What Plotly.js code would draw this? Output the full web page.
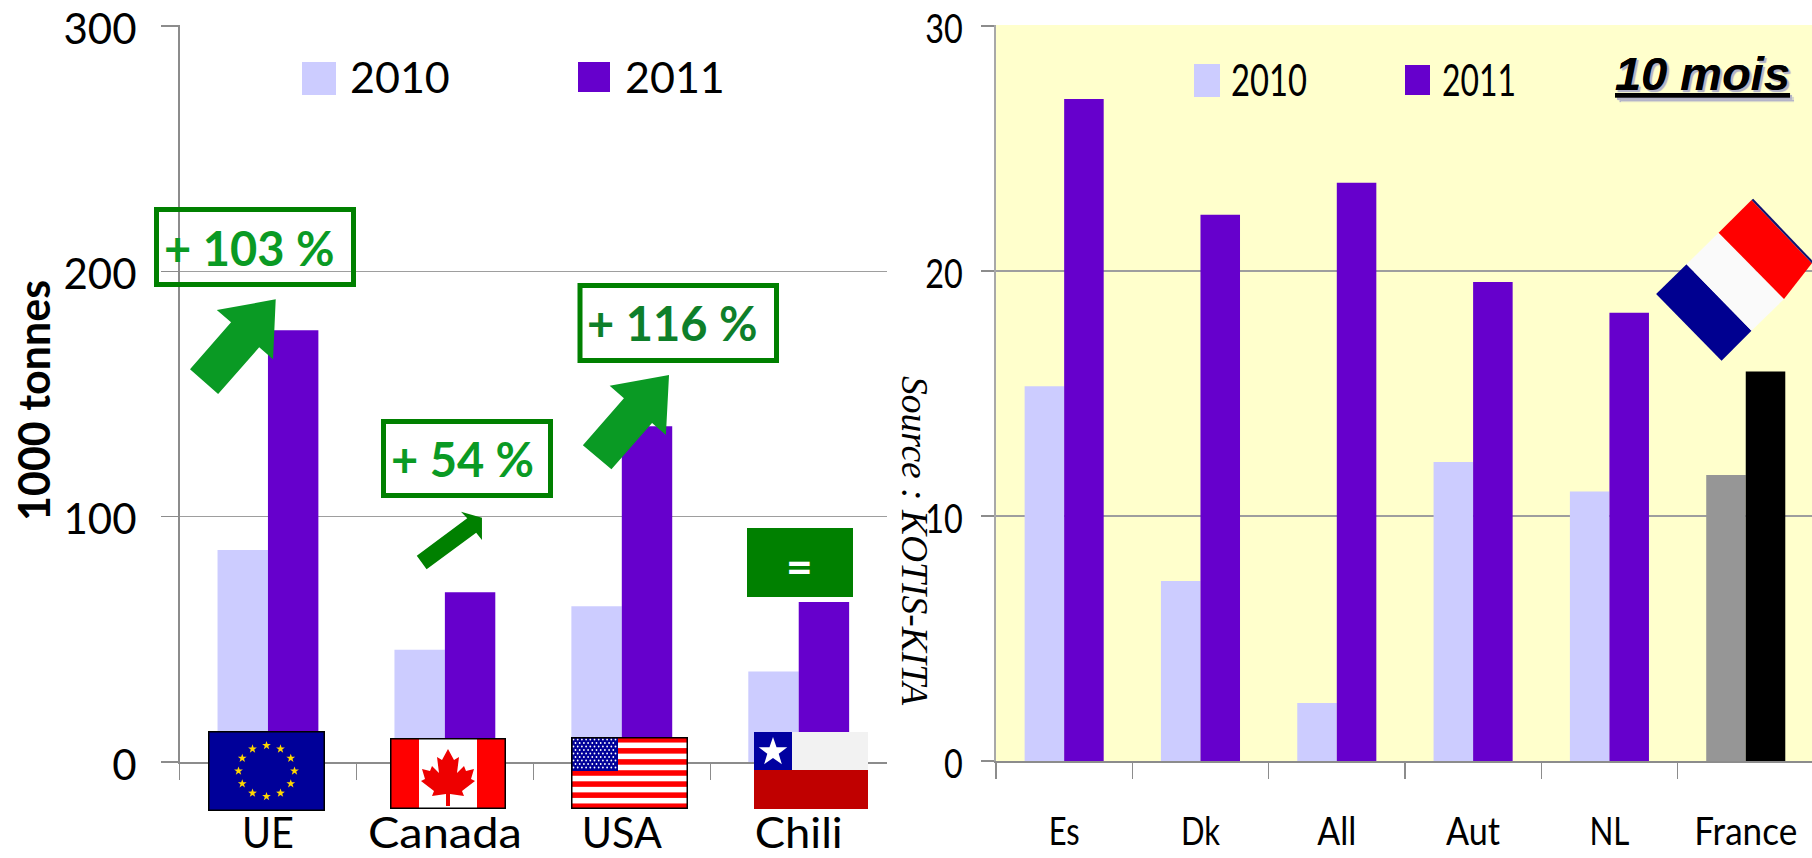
<!DOCTYPE html>
<html><head><meta charset="utf-8">
<script src="https://cdn.plot.ly/plotly-3.0.1.min.js"></script>
<style>html,body{margin:0;padding:0;background:#fff;overflow:hidden}</style>
</head><body><div id="chart" style="width:1812px;height:858px"></div>
<script>
// ---- data ----
const leftCategories = ['UE','Canada','USA','Chili'];
const left2010 = [86.4,45.8,63.5,36.9];
const left2011 = [176,69.2,136.9,65.2];
const leftTicks = [0,100,200,300];
const rightCategories = ['Es','Dk','All','Aut','NL','France'];
const right2010 = [15.3,7.35,2.37,12.2,11.0,11.67];
const right2011 = [27.02,22.3,23.6,19.55,18.3,15.9];
const rightTicks = [0,10,20,30];
const color2010 = ['#CCCCFF','#CCCCFF','#CCCCFF','#CCCCFF','#CCCCFF','#969696'];
const color2011 = ['#6600CC','#6600CC','#6600CC','#6600CC','#6600CC','#000000'];
const seriesNames = ['2010','2011'];

// ---- layout helpers ----
const W=1812,H=858;
const px=x=>x/W, py=y=>1-y/H;
const poly=(pts,fill)=>({type:'path',xref:'paper',yref:'paper',layer:'above',fillcolor:fill,line:{width:0},
  path:'M'+pts.map(p=>px(p[0]).toFixed(5)+','+py(p[1]).toFixed(5)).join('L')+'Z'});
const rect=(x0,y0,x1,y1,fill,lineColor,lw)=>({type:'rect',xref:'paper',yref:'paper',layer:'above',
  x0:px(x0),x1:px(x1),y0:py(y0),y1:py(y1),fillcolor:fill||'rgba(0,0,0,0)',line:{color:lineColor||'rgba(0,0,0,0)',width:lw||0}});
const z3=(pts)=>pts.map(p=>[140+p[0]/2.24,190+p[1]/3]);
const z2=(pts)=>pts.map(p=>[1150+p[0]/2.369,p[1]/3]);
const note=(x,y,text,size,color,family,extra)=>Object.assign({xref:'paper',yref:'paper',x:px(x),y:py(y),text:text,showarrow:false,
  xanchor:'center',yanchor:'middle',font:{size:size,color:color,family:family}},extra||{});

const LATO='Lato, sans-serif', SANS='"Liberation Sans", sans-serif';

// flags as small inline SVG pictures
function star(cx,cy,r,fill){let p=[];for(let i=0;i<10;i++){const a=-Math.PI/2+i*Math.PI/5,q=i%2?r*0.4:r;p.push((cx+q*Math.cos(a)).toFixed(2)+','+(cy+q*Math.sin(a)).toFixed(2));}
  return `<polygon points="${p.join(' ')}" fill="${fill}"/>`;}
const svg=(w,h,body)=>'data:image/svg+xml;charset=utf-8,'+encodeURIComponent(`<svg xmlns="http://www.w3.org/2000/svg" width="${w}" height="${h}" viewBox="0 0 ${w} ${h}">${body}</svg>`);
function flagEU(){let b='<rect width="117" height="80" fill="#000099" stroke="#000" stroke-width="3"/>';
  for(let i=0;i<12;i++){const a=i*Math.PI/6;b+=star(58.5+28*Math.sin(a),40-25.5*Math.cos(a),4.6,'#FFD700');}return svg(117,80,b);}
function flagCA(){const L='M58,11 L52,22 L47,19 L49,35 L42,28 L40,33 L32,31 L35,41 L31,43 L44,53 L42,58 L56,56 L56,68 L60,68 L60,56 L74,58 L72,53 L85,43 L81,41 L84,31 L76,33 L74,28 L67,35 L69,19 L64,22 Z';
  return svg(116,71,`<rect width="116" height="71" fill="#fff"/><rect width="29" height="71" fill="#FF0000"/><rect x="87" width="29" height="71" fill="#FF0000"/><path d="${L}" fill="#EE0000"/><rect x="0.75" y="0.75" width="114.5" height="69.5" fill="none" stroke="#000" stroke-width="1.5"/>`);}
function flagUS(){let b='<rect width="117" height="72" fill="#fff"/>';for(let i=0;i<7;i++)b+=`<rect y="${(i*2*72/13).toFixed(2)}" width="117" height="${(72/13).toFixed(2)}" fill="#FF0000"/>`;
  b+='<rect width="47" height="34" fill="#000099"/>';for(let r=0;r<9;r++)for(let c=0;c<(r%2?10:11);c++)b+=`<circle cx="${(2.5+(r%2?2:0)+c*4.2).toFixed(1)}" cy="${(2.5+r*3.5).toFixed(1)}" r="0.9" fill="#fff"/>`;
  b+='<rect x="0.75" y="0.75" width="115.5" height="70.5" fill="none" stroke="#000" stroke-width="1.5"/>';return svg(117,72,b);}
function flagCL(){return svg(114,77,'<rect width="114" height="38" fill="#F2F2F2"/><rect y="38" width="114" height="39" fill="#C00000"/><rect width="38" height="38" fill="#0000A0"/>'+star(19,20,15,'#FFFFFF'));}
const img=(src,x0,y0,x1,y1)=>({source:src,xref:'paper',yref:'paper',x:px(x0),y:py(y0),sizex:(x1-x0)/W,sizey:(y1-y0)/H,xanchor:'left',yanchor:'top',sizing:'stretch',layer:'above'});

const AXIS='#8C8C8C', GRID='#9E9E9E';
const traces=[
 {type:'bar',name:seriesNames[0],x:leftCategories,y:left2010,xaxis:'x',yaxis:'y',marker:{color:color2010[0]},width:0.285,offset:-0.285},
 {type:'bar',name:seriesNames[1],x:leftCategories,y:left2011,xaxis:'x',yaxis:'y',marker:{color:color2011[0]},width:0.285,offset:0},
 {type:'bar',name:seriesNames[0],x:rightCategories,y:right2010,xaxis:'x2',yaxis:'y2',marker:{color:color2010},width:0.29,offset:-0.29},
 {type:'bar',name:seriesNames[1],x:rightCategories,y:right2011,xaxis:'x2',yaxis:'y2',marker:{color:color2011},width:0.29,offset:0}
];
const layout={
 width:W,height:H,margin:{l:0,r:0,t:0,b:0},paper_bgcolor:'#fff',plot_bgcolor:'rgba(0,0,0,0)',showlegend:false,barmode:'overlay',
 xaxis:{domain:[px(179.5),px(887)],type:'category',categoryorder:'array',categoryarray:leftCategories,range:[-0.5,3.499],tickson:'boundaries',ticks:'outside',ticklen:16,tickcolor:AXIS,tickwidth:1.5,showline:true,linecolor:AXIS,linewidth:1.5,showgrid:false,anchor:'y',tickfont:{family:LATO,size:42,color:'#000'},ticklabelstandoff:34,ticklabeloverflow:'allow',fixedrange:true},
 yaxis:{domain:[py(762),py(25)],range:[0,300.4],tickmode:'array',tickvals:leftTicks,ticks:'outside',ticklen:17,tickcolor:AXIS,tickwidth:1.5,showline:true,linecolor:AXIS,linewidth:1.5,showgrid:true,gridcolor:GRID,gridwidth:1.5,zeroline:false,anchor:'x',tickfont:{family:LATO,size:42,color:'#000'},ticklabelstandoff:16,ticklabelshift:3,ticklabeloverflow:'allow',fixedrange:true},
 xaxis2:{domain:[px(996),1],type:'category',categoryorder:'array',categoryarray:rightCategories,range:[-0.5,5.486],tickson:'boundaries',ticks:'outside',ticklen:16,tickcolor:AXIS,tickwidth:1.5,showline:true,linecolor:AXIS,linewidth:1.5,showgrid:false,anchor:'y2',tickfont:{family:LATO,size:39,color:'#000'},ticklabelstandoff:36,ticklabeloverflow:'allow',fixedrange:true},
 yaxis2:{domain:[py(761),py(25)],range:[0,30.04],tickmode:'array',tickvals:rightTicks,ticks:'outside',ticklen:13,tickcolor:AXIS,tickwidth:1.5,showline:true,linecolor:'#A8A8A8',linewidth:2,showgrid:true,gridcolor:GRID,gridwidth:1.5,zeroline:false,anchor:'x2',tickfont:{family:LATO,size:41,color:'#000'},ticklabelstandoff:10,ticklabelshift:3,ticklabeloverflow:'allow',fixedrange:true},
 shapes:[
  {type:'rect',xref:'x2 domain',yref:'y2 domain',x0:0,x1:1,y0:0,y1:1,layer:'below',fillcolor:'#FFFFCC',line:{width:0}},
  // legend swatches
  rect(302,62,336,95,color2010[0]), rect(578,62,610,92,color2011[0]),
  rect(1194,64,1220,97,color2010[0]), rect(1405,65,1430,95,color2011[0]),
  // change boxes
  rect(156.5,209.5,353.5,284.5,null,'#008000',5),
  rect(580,285.5,776.5,360.5,null,'#008000',5),
  rect(383.5,421.5,550.5,495.5,null,'#008000',5),
  rect(747,528,853,597,'#008000'),
  // arrows
  poly(z3([[304,328],[172,360],[204,397],[112,538],[175,612],[267,472],[298,508]]),'#0A9A24'),
  poly(z3([[1185,555],[1052,587],[1084,625],[992,766],[1056,838],[1147,699],[1178,735]]),'#0A9A24'),
  poly(z3([[766,983],[719,965],[733,985],[620,1097],[642,1138],[753,1028],[766,1050]]),'#008000'),
  // French flag, tilted
  poly(z2([[1199,882],[1271,793],[1425,992],[1354,1082]]),'#000090'),
  poly(z2([[1271,793],[1347,698],[1502,897],[1425,992]]),'#FAFAFA'),
  poly(z2([[1347,698],[1425,600],[1568,790],[1502,897]]),'#FF0000'),
  poly(z2([[1425,600],[1429,596],[1572,786],[1568,790]]),'#101070')
 ],
 images:[img(flagEU(),208,731,325,811),img(flagCA(),390,738,506,809),img(flagUS(),571,737,688,809),img(flagCL(),754,732,868,809)],
 annotations:[
  note(400,76,seriesNames[0],43,'#000',LATO), note(675,76,seriesNames[1],43,'#000',LATO),
  note(1269,79,seriesNames[0],44,'#000',LATO), note(1479,79,seriesNames[1],44,'#000',LATO),
  note(1702,74,'<b><i><u>10 mois</u></i></b>',47,'#000',SANS),
  note(915,541,'<i>Source : KOTIS-KITA</i>',37.5,'#000','"Liberation Serif", serif',{textangle:90}),
  note(33,401,'<b>1000 tonnes</b>',43,'#000',LATO,{textangle:-90}),
  note(249,248,'<b>+ 103 %</b>',47,'#0A9A24',LATO),
  note(672,323,'<b>+ 116 %</b>',47,'#0E7F2A',LATO),
  note(462,459,'<b>+ 54 %</b>',47,'#0A9A24',LATO),
  note(799,565,'<b>=</b>',46,'#FFFFFF',LATO)
 ]
};
layout.annotations[4].font.shadow='2px 2px 1px #B4B4C8';
// widths of the reference's stretched labels, in pixels
const labelWidths={UE:52,Canada:154,USA:80,Chili:88,Es:31,Dk:39,All:39,Aut:54,NL:40,France:103};
function fitWidth(el,w){el.setAttribute('textLength',w.toFixed(1));el.setAttribute('lengthAdjust','spacingAndGlyphs');}
function scaleEnd(el,f){const x=+el.getAttribute('x');const tr=el.getAttribute('transform')||'';
  el.setAttribute('x',(x/f).toFixed(2));el.setAttribute('transform',tr+' scale('+f+',1)');}
Plotly.newPlot('chart',traces,layout,{displayModeBar:false,staticPlot:true}).then(gd=>{
  gd.querySelectorAll('.xtick text, .x2tick text').forEach(t=>{const w=labelWidths[t.textContent];if(w)fitWidth(t,w);});
  gd.querySelectorAll('.y2tick text').forEach(t=>scaleEnd(t,0.79));
  gd.querySelectorAll('.annotation').forEach(a=>{const i=+a.getAttribute('data-index');if(i===2||i===3)a.querySelectorAll('text').forEach(t=>fitWidth(t,i===2?76:74));});
});
</script></body></html>
